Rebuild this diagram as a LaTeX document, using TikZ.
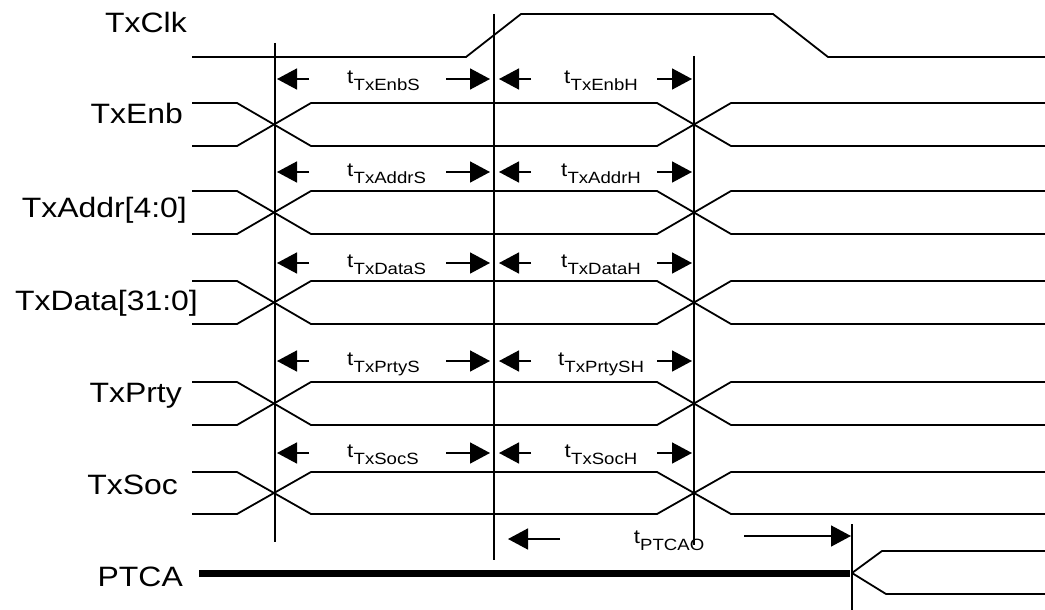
\documentclass[tikz,border=0pt]{standalone}
\usepackage{fontspec}
\usetikzlibrary{arrows.meta}
\newfontfamily\lblfont[FakeStretch=1.14]{Liberation Sans}
\newcommand{\tlab}[1]{{\fontsize{19.5}{20}\selectfont t}\kern0.3pt\raisebox{-7pt}{\fontsize{16.3}{17}\selectfont #1}}
\tikzset{
  sig/.style={line width=1.8pt},
  mark line/.style={line width=1.5pt},
  tarrow/.style={line width=1.6pt,-{Triangle[length=20pt,width=21pt]}},
  signame/.style={anchor=base east,inner sep=0pt,font=\lblfont\fontsize{28}{30}\selectfont},
  tname/.style={inner sep=0pt,font=\lblfont}
}
\begin{document}
\begin{tikzpicture}[x=1pt,y=-1pt]
  \useasboundingbox (0,0) rectangle (1045,610);
  \node[signame] (clk) at (187,33) {TxClk};
  \node[signame] (enb) at (183,124) {TxEnb};
  \node[signame] (addr) at (187,217) {TxAddr[4:0]};
  \node[signame] (data) at (198,310) {TxData[31:0]};
  \node[signame] (prty) at (182,402) {TxPrty};
  \node[signame] (soc) at (178,494) {TxSoc};
  \node[signame] (ptca) at (183,586) {PTCA};
  \draw[sig] (192,57) -- (466,57) -- (521,14) -- (773,14) -- (828,57) -- (1045,57);
  \foreach \u/\l in {103/146,191/234,281/324,382/425,472/514} {
    \draw[sig] (192,\u) -- (237,\u) -- (311,\l) -- (657,\l) -- (731,\u) -- (1045,\u);
    \draw[sig] (192,\l) -- (237,\l) -- (311,\u) -- (657,\u) -- (731,\l) -- (1045,\l);
  }
  \coordinate (ptcaend) at (852,573);
  \draw[line width=7pt] (199,573) -- (850,573);
  \draw[sig] (ptcaend) -- (882,551) -- (1045,551);
  \draw[sig] (ptcaend) -- (886,594) -- (1045,594);
  \draw[mark line] (275,43) coordinate (v1) -- (275,542);
  \draw[mark line] (494,14) coordinate (v2) -- (494,560);
  \draw[mark line] (694,56) coordinate (v3) -- (694,545);
  \draw[mark line] (852,524) coordinate (v4) -- (852,610);
  \foreach \y/\s/\h in {79/TxEnbS/TxEnbH,172/TxAddrS/TxAddrH,263/TxDataS/TxDataH,361/TxPrtyS/TxPrtySH,453/TxSocS/TxSocH} {
    \draw[tarrow] (309,\y) -- (277,\y);
    \draw[tarrow] (446,\y) -- (490,\y);
    \draw[tarrow] (531,\y) -- (499,\y);
    \draw[tarrow] (657,\y) -- (692,\y);
    \node[tname,anchor=base west] at (347,\y+4.5) {\tlab{\s}};
    \node[tname,anchor=base] at (601,\y+4.5) {\tlab{\h}};
  }
  \draw[tarrow] (560,539) -- (508,539);
  \draw[tarrow] (744,536) -- (851,536);
  \node[tname,anchor=base] (ptcao) at (669,543) {\tlab{PTCAO}};
\end{tikzpicture}
\end{document}
